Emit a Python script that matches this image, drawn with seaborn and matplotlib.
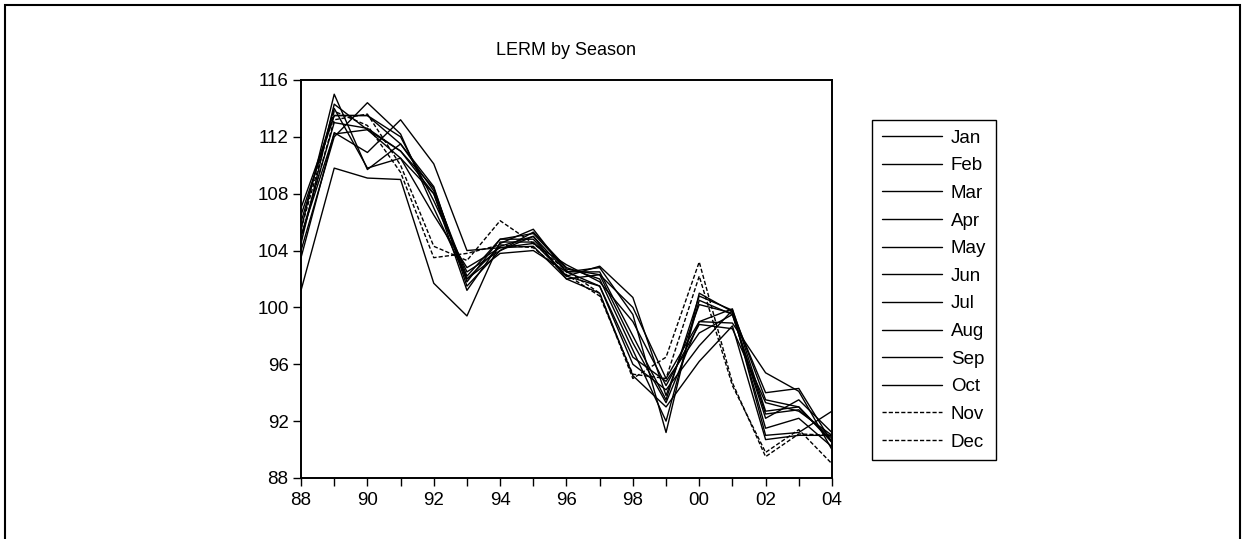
import matplotlib
matplotlib.use("Agg")
import matplotlib.pyplot as plt
import matplotlib.patches as patches
from matplotlib.ticker import MultipleLocator, FuncFormatter
import seaborn as sns

# data (1988-2004, one value per year for each month)
years = list(range(1988, 2005))
months = ["Jan", "Feb", "Mar", "Apr", "May", "Jun",
          "Jul", "Aug", "Sep", "Oct", "Nov", "Dec"]

jan = [104.5, 114.3, 112.5, 111.0, 108.0, 102.0, 104.3, 105.0, 102.5, 102.5, 98.0, 93.5, 100.8, 99.8, 93.5, 93.0, 90.5]
feb = [105.5, 115.0, 109.7, 111.5, 108.5, 101.5, 104.0, 105.3, 102.8, 102.0, 97.0, 92.0, 100.5, 99.5, 92.5, 92.8, 90.8]
mar = [106.0, 114.0, 109.8, 110.5, 108.0, 101.2, 104.5, 105.5, 102.5, 102.8, 99.5, 91.2, 101.0, 99.7, 91.5, 92.2, 90.2]
apr = [107.0, 113.5, 113.5, 111.5, 108.2, 102.2, 104.8, 104.8, 102.2, 102.9, 100.7, 93.8, 100.2, 99.6, 94.0, 94.3, 90.5]
may = [106.5, 113.5, 113.5, 112.0, 107.5, 102.5, 104.0, 105.0, 102.0, 102.3, 100.0, 95.0, 99.0, 98.9, 95.4, 94.1, 90.0]
jun = [105.0, 112.2, 112.5, 110.5, 106.5, 102.8, 104.2, 104.5, 103.0, 101.8, 99.0, 94.5, 98.8, 98.5, 93.3, 92.7, 91.0]
jul = [104.0, 112.0, 114.4, 112.2, 107.0, 102.0, 103.8, 104.0, 102.5, 101.5, 96.5, 94.8, 98.2, 99.5, 92.2, 93.5, 91.2]
aug = [101.2, 109.8, 109.1, 109.0, 101.7, 99.4, 104.6, 104.6, 102.2, 101.5, 96.0, 94.2, 97.3, 99.8, 91.0, 91.2, 92.7]
sep = [103.5, 112.3, 110.9, 113.2, 110.1, 104.0, 104.2, 104.3, 102.0, 101.0, 95.2, 93.0, 96.2, 98.7, 90.7, 91.0, 91.0]
oct_ = [105.0, 113.0, 112.6, 111.0, 108.4, 101.8, 104.8, 105.2, 102.7, 102.3, 97.5, 93.3, 99.0, 99.9, 92.7, 93.0, 90.6]
nov = [104.8, 113.2, 113.6, 110.0, 104.3, 103.3, 106.1, 104.5, 102.6, 101.0, 95.0, 96.5, 103.2, 94.7, 89.5, 91.1, 91.0]
dec = [105.5, 113.8, 112.8, 109.5, 103.5, 103.8, 104.4, 104.2, 102.3, 100.8, 95.3, 95.0, 102.2, 94.5, 89.8, 91.4, 89.0]

series = [jan, feb, mar, apr, may, jun, jul, aug, sep, oct_, nov, dec]

sns.set_style("ticks")
plt.rcParams["font.family"] = ["Liberation Sans", "DejaVu Sans"]
plt.rcParams["text.color"] = "black"
plt.rcParams["xtick.color"] = "black"
plt.rcParams["ytick.color"] = "black"

fig = plt.figure(figsize=(12.46, 5.39), dpi=100)
ax = fig.add_axes([0.2416, 0.1132, 0.4261, 0.7384])

for name, vals in zip(months, series):
    ls = (0, (3, 1.5)) if name in ("Nov", "Dec") else "-"
    sns.lineplot(x=years, y=vals, ax=ax, color="black", linewidth=1.0,
                 linestyle=ls, label=name, legend=False)

ax.set_xlim(1988, 2004)
ax.set_ylim(88, 116)
ax.xaxis.set_major_locator(MultipleLocator(2))
ax.xaxis.set_minor_locator(MultipleLocator(1))
ax.xaxis.set_major_formatter(FuncFormatter(lambda v, p: "%02d" % (int(round(v)) % 100)))
ax.yaxis.set_major_locator(MultipleLocator(4))
ax.tick_params(axis="x", which="both", length=6, width=1, direction="out", pad=4, labelsize=13.5)
ax.tick_params(axis="y", length=6, width=1, direction="out", pad=3, labelsize=13.5)
for s in ax.spines.values():
    s.set_linewidth(1.4)
    s.set_color("black")
ax.set_xlabel("")
ax.set_ylabel("")
ax.set_title("LERM by Season", fontsize=13, pad=18)

leg = fig.legend(handles=ax.get_lines(), labels=months, loc="upper left",
                 bbox_to_anchor=(0.700, 0.777), borderaxespad=0,
                 fontsize=13.5, frameon=True, fancybox=False, edgecolor="black",
                 framealpha=1, handlelength=3.2, handletextpad=0.5,
                 labelspacing=0.56, borderpad=0.5)
leg.get_frame().set_linewidth(1.0)

# outer frame around the whole graph
fig.add_artist(patches.Rectangle((0.004, -0.1), 0.991, 1.0907, transform=fig.transFigure,
                                 fill=False, edgecolor="black", linewidth=1.5, clip_on=False))

fig.savefig("out.png", dpi=100)
